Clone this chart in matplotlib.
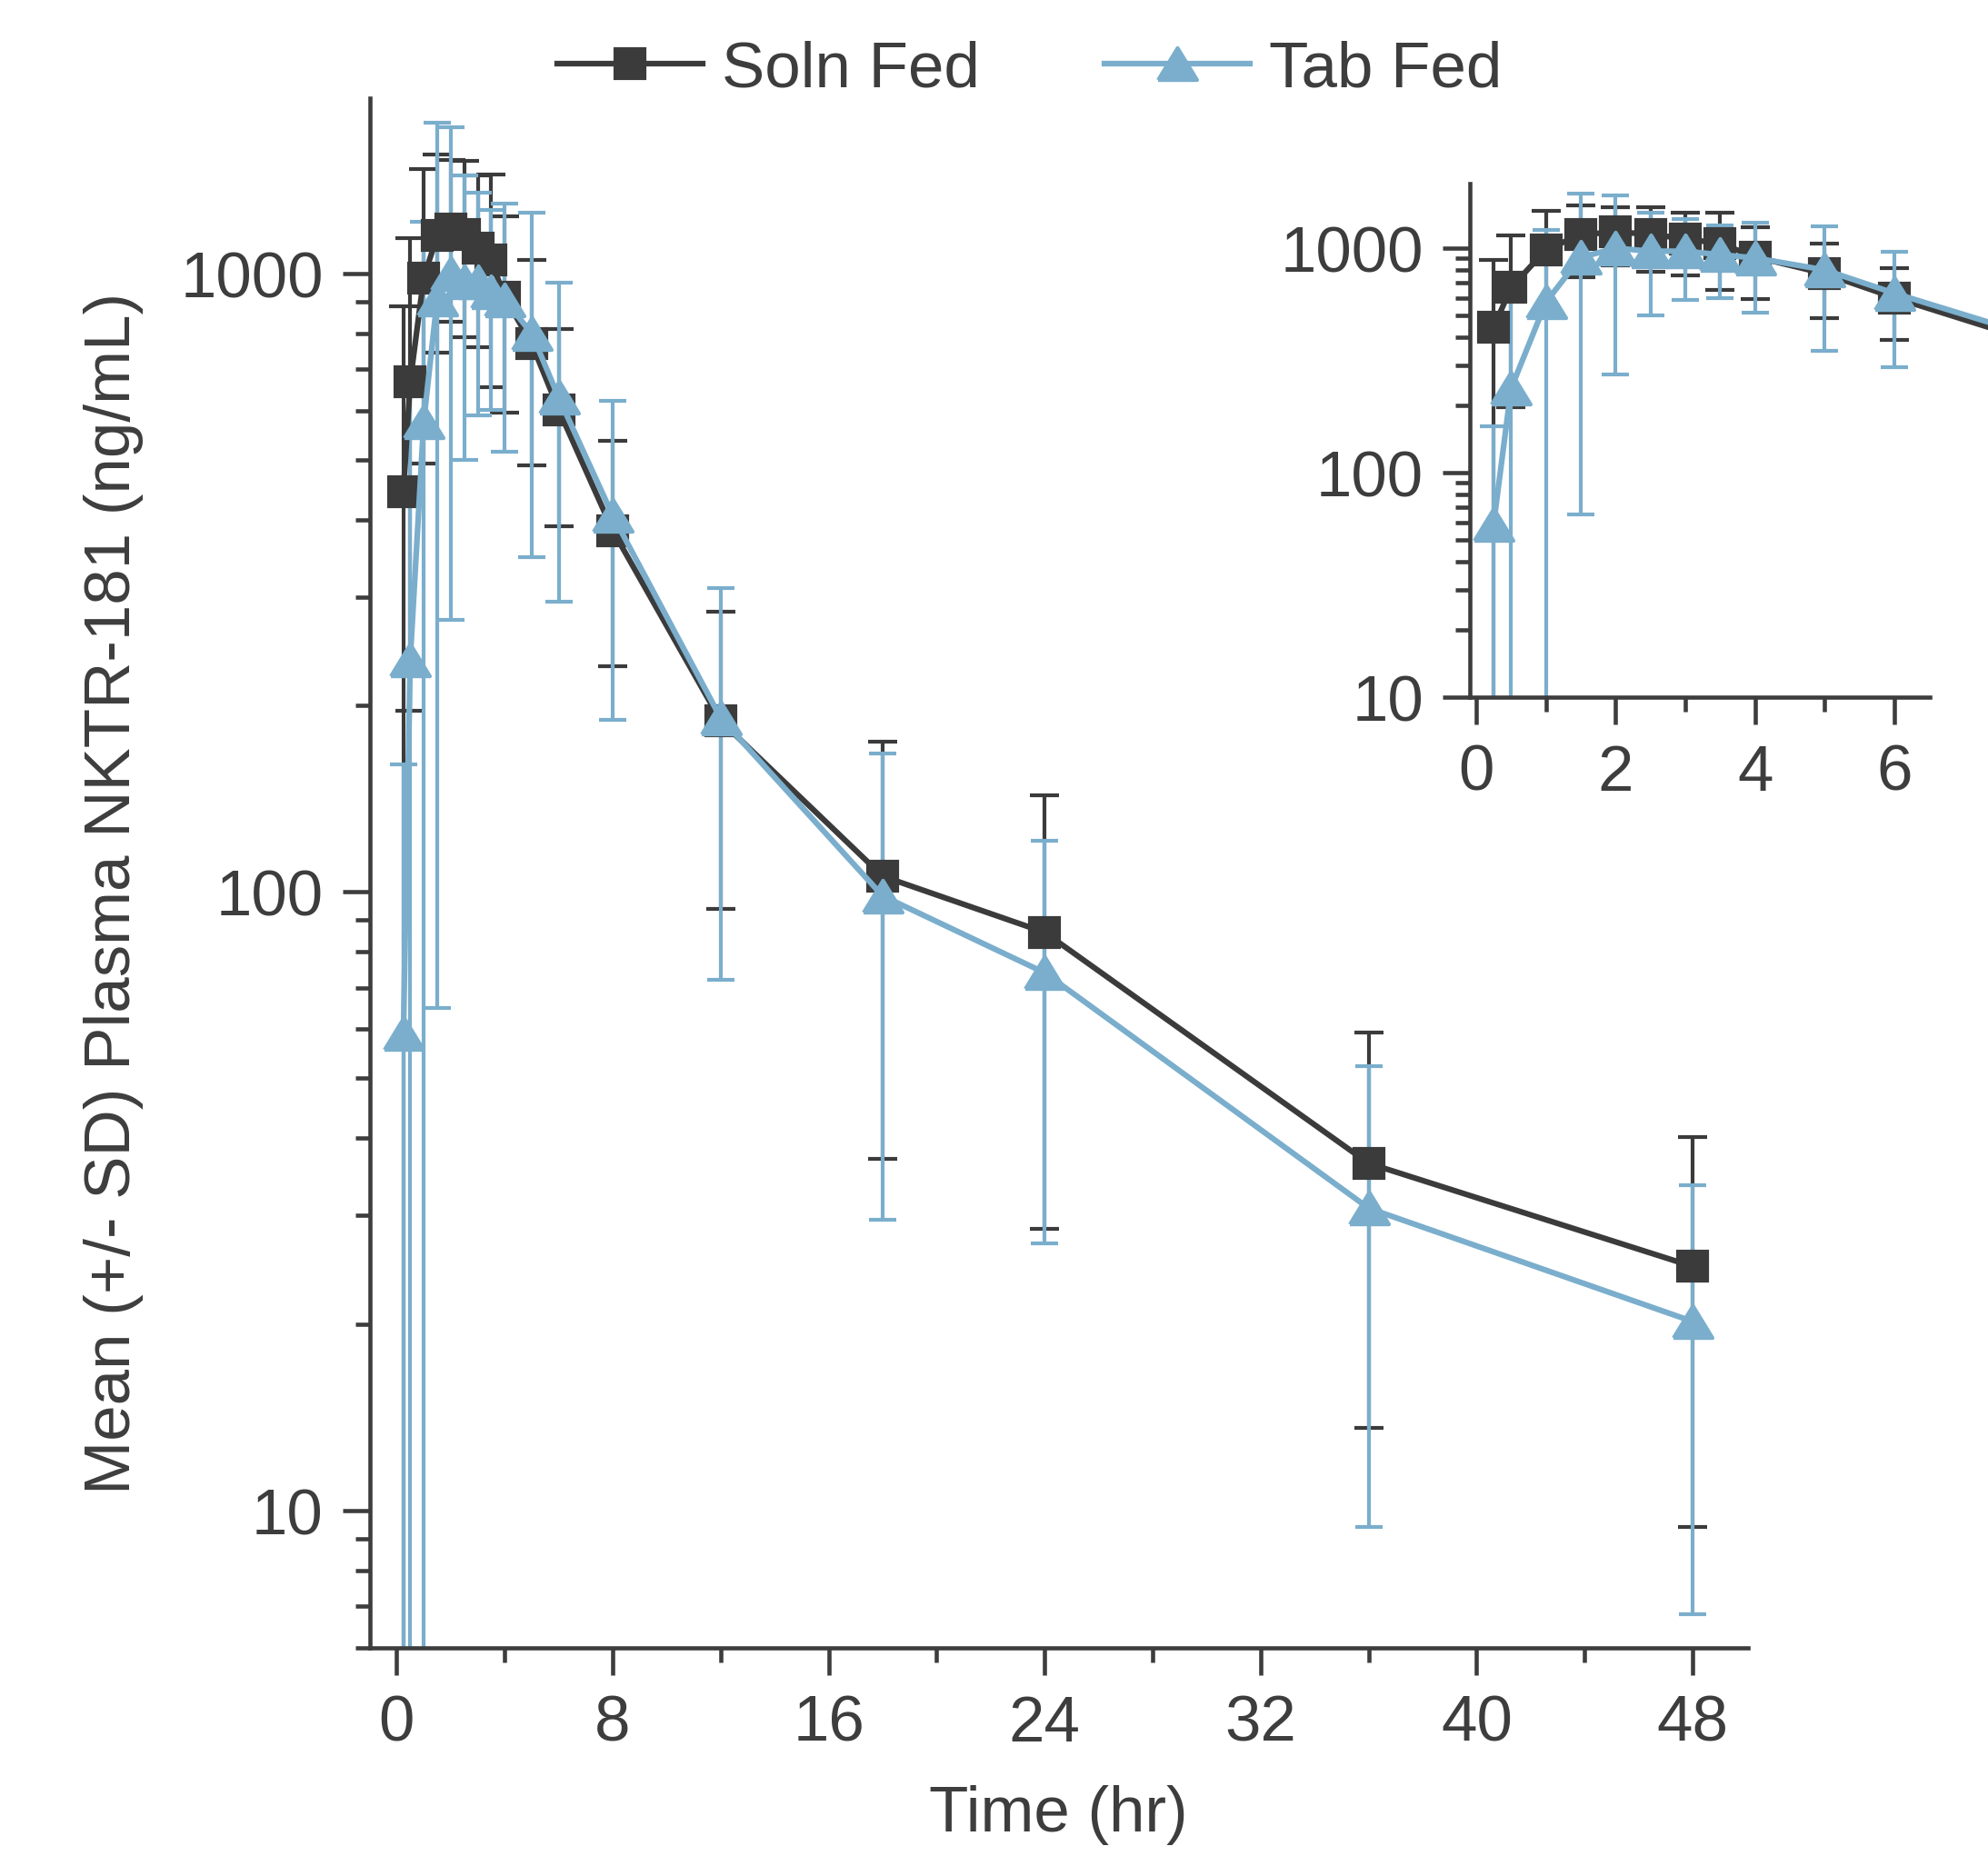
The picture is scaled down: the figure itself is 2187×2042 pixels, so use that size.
import matplotlib
matplotlib.use("Agg")
import matplotlib.pyplot as plt
from matplotlib.lines import Line2D
from matplotlib.ticker import FixedLocator, NullFormatter, LogLocator
import numpy as np

# mean (+/- SD) plasma NKTR-181, solution vs tablet, fed state
time = [0.25, 0.5, 1, 1.5, 2, 2.5, 3, 3.5, 4, 5, 6, 8, 12, 18, 24, 36, 48]

soln_mean = [444, 668, 983, 1150, 1180, 1155, 1100, 1050, 915, 770, 602, 384, 189, 106, 86, 36.4, 24.8]
soln_sd = [441, 472, 490, 406, 345, 367, 340, 396, 320, 281, 212, 152, 95, 69, 57.5, 22.8, 15.4]

tab_mean = [59, 237, 575, 910, 1000, 970, 970, 935, 905, 800, 630, 406, 191, 98.5, 74, 30.8, 20.2]
tab_sd = [102, 421, 635, 845, 725, 470, 380, 333, 390, 452, 335, 216, 119, 69, 47, 21.4, 13.4]

labels = ["Soln Fed", "Tab Fed"]
main_xticks = [0, 8, 16, 24, 32, 40, 48]
inset_xticks = [0, 2, 4, 6]
yticks = [10, 100, 1000]

dark = "#3b3b3b"
blue = "#7aaecc"
txt = "#3d3d3d"

plt.rcParams['font.family'] = ['Liberation Sans', 'DejaVu Sans']
plt.rcParams['text.color'] = txt
plt.rcParams['axes.edgecolor'] = txt
plt.rcParams['xtick.color'] = txt
plt.rcParams['ytick.color'] = txt

# triangle a bit wider than tall, like the original
tri = [(-1, -0.82), (1, -0.82), (0, 0.82), (-1, -0.82)]

W, H = 2187, 2043
fig = plt.figure(figsize=(W/300, H/300), dpi=300)


def style_axes(ax, fs):
    ax.set_yscale('log', nonpositive='clip')
    for s in ['top', 'right']:
        ax.spines[s].set_visible(False)
    for s in ['left', 'bottom']:
        ax.spines[s].set_linewidth(1.1)
    ax.tick_params(which='major', direction='out', length=7.2, width=1.1, labelsize=fs, pad=5)
    ax.tick_params(which='minor', direction='out', length=3.8, width=1.1)
    ax.yaxis.set_major_locator(FixedLocator(yticks))
    ax.set_yticklabels([str(v) for v in yticks], fontsize=fs)
    ax.yaxis.set_minor_locator(LogLocator(base=10, subs=np.arange(2, 10)))
    ax.yaxis.set_minor_formatter(NullFormatter())


def draw(ax):
    ax.errorbar(time, soln_mean, yerr=soln_sd, color=dark, lw=1.5, marker='s', ms=7.7,
                elinewidth=1.0, capsize=3.8, capthick=1.0, label=labels[0])
    ax.errorbar(time, tab_mean, yerr=tab_sd, color=blue, lw=1.5, marker=tri, ms=10.3,
                elinewidth=1.0, capsize=3.5, capthick=1.0, label=labels[1])


# main panel
ax = fig.add_axes([406.7/W, (H-1813.7)/H, (1923-406.7)/W, (1813.7-109)/H])
draw(ax)
style_axes(ax, 17)
ax.set_xlim(-1.0, 50.05)
ax.set_ylim(6, 1920)
ax.set_xticks(main_xticks)
ax.set_xticklabels([str(v) for v in main_xticks], fontsize=17)
ax.xaxis.set_minor_locator(FixedLocator([4, 12, 20, 28, 36, 44]))

fig.text(1164.7/W, 1-1997/H, "Time (hr)", ha='center', va='center', fontsize=17)
fig.text(125.5/W, 1-983/H, "Mean (+/- SD) Plasma NKTR-181 (ng/mL)", rotation=90,
         ha='center', va='center', fontsize=17)

# inset, first hours, runs off the right edge of the figure
axi = fig.add_axes([1617/W, (H-768)/H, 1-1617/W, (768-203)/H])
axi.set_facecolor('none')
draw(axi)
style_axes(axi, 17)
axi.set_xlim(-0.091, 7.343)
axi.set_ylim(10, 1940)
axi.set_xticks(inset_xticks)
axi.set_xticklabels([str(v) for v in inset_xticks], fontsize=17)
axi.xaxis.set_minor_locator(FixedLocator([1, 3, 5]))
axi.spines['bottom'].set_bounds(-0.091, 6.51)

handles = [Line2D([], [], color=dark, lw=1.5, marker='s', ms=7.7),
           Line2D([], [], color=blue, lw=1.5, marker=tri, ms=10.3)]
fig.legend(handles, labels, loc='center', bbox_to_anchor=(0.518, 0.962), ncol=2,
           frameon=False, fontsize=17, handlelength=2.26, handletextpad=0.3,
           columnspacing=1.93)

fig.savefig("out.png", dpi=300)
